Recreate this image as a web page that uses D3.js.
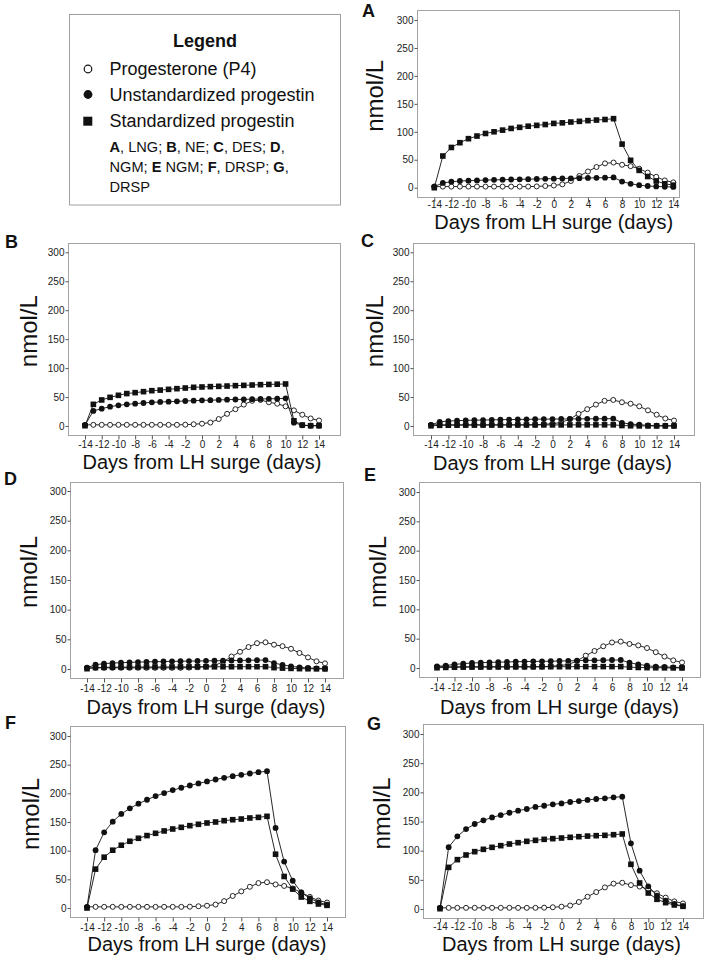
<!DOCTYPE html>
<html><head><meta charset="utf-8">
<script src="https://cdn.jsdelivr.net/npm/d3@7"></script>
<style>body{margin:0;background:#fff} svg{display:block}</style>
</head><body>
<svg id="chart" width="705" height="959"></svg>
<script>
// ---------------- DATA ----------------
const days = [-14,-13,-12,-11,-10,-9,-8,-7,-6,-5,-4,-3,-2,-1,0,1,2,3,4,5,6,7,8,9,10,11,12,13,14];
const xTickValues = [-14,-12,-10,-8,-6,-4,-2,0,2,4,6,8,10,12,14];
const yTickValues = [0,50,100,150,200,250,300];
const panelLetters = ["A","B","C","D","E","F","G"];
const xTitle = "Days from LH surge (days)";
const yTitle = "nmol/L";
const legendTitle = "Legend";
const seriesNames = ["Progesterone (P4)","Unstandardized progestin","Standardized progestin"];
const footnoteLines = [
  [["A",true],[", LNG; ",false],["B",true],[", NE; ",false],["C",true],[", DES; ",false],["D",true],[",",false]],
  [["NGM; ",false],["E",true],[" NGM; ",false],["F",true],[", DRSP; ",false],["G",true],[",",false]],
  [["DRSP",false]]
];

const p4 = [2,2,2,2,2,2,2,2,2,2,2,2,2.3,3,4,6,12,21,29,37,43.5,45,41,38.5,34,27,19.5,13,9.5];

const unstdA = [2,8.5,10.7,12,12.5,13,13.7,14,14.3,14.7,15,15.3,15.6,15.9,16.2,16.5,16.8,17.1,17.4,17.7,18,18.3,11,7,4.5,3,2.2,1.7,1.3];
const stdA   = [0,56.7,72,80.5,87.7,92.4,97,100,103,106,108,110,111.5,113,115,116,117.5,118.7,120,121,122,123.5,78,49,31,20,12,7,4.5];

const unstdB = [1.5,26,30,33.4,35.7,37.4,38.6,39.7,40.9,41.5,42,42.6,43.2,43.8,44.3,44.6,45,45.5,45.8,46,46.4,46.7,47,47.2,47.8,5.8,1.2,0.6,0.5];
const stdB   = [0.5,37.4,45,49.5,53,56,57.6,59.3,61,62,63.3,64.5,65.6,66.8,67.4,68,68.5,69,69.7,70.2,70.8,71.4,71.8,72.2,72.6,9,1.7,0.5,0.5];

const unstdC = [2,7,8.5,9.2,9.8,10,10.3,10.6,10.9,11.1,11.3,11.5,11.7,11.9,12,12.1,12.2,12.3,12.4,12.5,12.6,12.7,5.5,3.3,2.2,1.2,0.7,0.5,0.4];
const stdC   = [0.3,1.2,1.4,1.5,1.6,1.6,1.7,1.7,1.7,1.8,1.8,1.8,1.8,1.9,1.9,1.9,1.9,2,2,2,2,2,0.8,0.4,0.2,0.1,0.1,0.1,0.1];

const unstdD = [2.2,7.3,9,10,10.6,11.2,11.6,12,12.3,12.6,12.9,13.1,13.3,13.5,13.7,13.9,14.1,14.3,14.5,14.7,14.9,15,10,7,4.5,2.8,1.7,1.2,0.8];
const stdD   = [0.5,2.4,2.8,3,3.1,3.2,3.3,3.4,3.4,3.5,3.5,3.6,3.6,3.7,3.7,3.7,3.8,3.8,3.8,3.9,3.9,3.9,2.3,1.5,1,0.6,0.4,0.3,0.2];

const unstdE = [2.8,4,6.2,7.4,8.5,9,9.6,10,10.2,10.8,11,11.3,11.3,11.6,11.9,12.2,12.5,13,13,13.3,13.6,13.6,9,6.2,4,2.3,1.7,1.2,0.9];
const stdE   = [0.4,1,1.3,1.5,1.6,1.7,1.8,1.9,1.9,2,2,2.1,2.1,2.2,2.2,2.2,2.3,2.3,2.3,2.4,2.4,2.4,1.4,0.9,0.6,0.4,0.3,0.2,0.1];

const unstdF = [1.7,100.8,132,150.6,164,173.8,181.9,188.8,195.2,200.4,205.6,209.7,213.7,217.2,220.7,224.1,227,230,232.3,234.6,236.9,238.6,139.6,81,47.5,27.2,16.8,9.8,5.8];
const stdF   = [0,67.8,88.6,100.8,109.5,116.4,121.6,126.3,130.3,134.4,137.8,140.7,143.6,146,148.3,150,152.3,154,155.2,157,158.1,159.9,93.8,55,33,19.1,11.6,7,4.6];

const unstdG = [1.7,106,124.6,137,145.7,152,157,161,165,168.6,171.4,174.9,177,179.4,181,183.4,185,186.9,188.6,189.7,191.4,192.6,112.6,65.7,38.9,22.9,14.3,8.6,5];
const stdG   = [0.5,71.4,84.6,92.6,98.3,102.3,105.7,108.6,111.4,113.7,116,117.7,119.4,120.6,121.7,122.9,124,125,125.7,126.3,127.4,128.6,76.6,44.6,27.4,16.6,10.9,6.9,4.6];

const unstdSeries = [unstdA, unstdB, unstdC, unstdD, unstdE, unstdF, unstdG];
const stdSeries   = [stdA, stdB, stdC, stdD, stdE, stdF, stdG];

// ---------------- LAYOUT (positions only) ----------------
const layout = [
  {L:417,R:679,T:10, B:197, x0:434.3,x1:673.3,y0:187.7,y300:20,   tickBase:208,  titleBase:229, ylabX:374, letterX:362, letterBase:17},
  {L:68, R:340,T:243,B:435, x0:85,   x1:319,  y0:426,  y300:252.3,tickBase:447.5,titleBase:469, ylabX:28,  letterX:5,   letterBase:248},
  {L:413,R:694,T:243,B:435, x0:431,  x1:674,  y0:426,  y300:252.3,tickBase:447.5,titleBase:470, ylabX:374, letterX:361, letterBase:247},
  {L:70, R:343,T:482,B:678, x0:87,   x1:325,  y0:669,  y300:491,  tickBase:692,  titleBase:714, ylabX:28,  letterX:4,   letterBase:485},
  {L:419,R:700,T:482,B:677, x0:437,  x1:682,  y0:668,  y300:492,  tickBase:691,  titleBase:714, ylabX:377, letterX:364, letterBase:481},
  {L:70, R:345,T:726,B:917, x0:87,   x1:327,  y0:908,  y300:736,  tickBase:931,  titleBase:951, ylabX:30,  letterX:5,   letterBase:729},
  {L:423,R:703,T:724,B:918, x0:440,  x1:683,  y0:909,  y300:734,  tickBase:930,  titleBase:951, ylabX:381, letterX:367, letterBase:730}
];

const FONT = "'Liberation Sans', Arial, Helvetica, sans-serif";
const svg = d3.select("#chart");
svg.append("rect").attr("width",705).attr("height",959).attr("fill","#fff");

// ---------------- LEGEND ----------------
const lg = svg.append("g").attr("font-family", FONT);
lg.append("rect").attr("x",69.5).attr("y",14.5).attr("width",271).attr("height",190.5)
  .attr("fill","none").attr("stroke","#a0a0a0").attr("stroke-width",1);
lg.append("text").attr("x",205).attr("y",46.5).attr("text-anchor","middle")
  .attr("font-size",18).attr("font-weight","bold").attr("fill","#111").text(legendTitle);
const legRows = [75,100.5,127];
lg.append("circle").attr("cx",88).attr("cy",legRows[0]-6).attr("r",3.8)
  .attr("fill","#fff").attr("stroke","#111").attr("stroke-width",1.2);
lg.append("circle").attr("cx",88).attr("cy",legRows[1]-6).attr("r",4.4).attr("fill","#111");
lg.append("rect").attr("x",83.3).attr("y",legRows[2]-10.3).attr("width",9).attr("height",9).attr("fill","#111");
seriesNames.forEach((n,i)=>{
  lg.append("text").attr("x",109.5).attr("y",legRows[i]).attr("font-size",18).attr("fill","#111").text(n);
});
const fnBase = [152,172,192];
footnoteLines.forEach((segs,i)=>{
  const t = lg.append("text").attr("x",109.5).attr("y",fnBase[i]).attr("font-size",14.6).attr("fill","#111");
  segs.forEach(s=>{
    t.append("tspan").attr("font-weight", s[1] ? "bold" : "normal").text(s[0]);
  });
});

// ---------------- PANELS ----------------
const sq = 5.6;
layout.forEach((lay, pi)=>{
  const g = svg.append("g").attr("font-family", FONT);
  const x = d3.scaleLinear().domain([days[0], days[days.length-1]]).range([lay.x0, lay.x1]);
  const y = d3.scaleLinear().domain([yTickValues[0], yTickValues[yTickValues.length-1]]).range([lay.y0, lay.y300]);

  // frame
  g.append("rect").attr("x",lay.L+0.5).attr("y",lay.T+0.5)
    .attr("width",lay.R-lay.L).attr("height",lay.B-lay.T)
    .attr("fill","none").attr("stroke","#a3a3a3").attr("stroke-width",1);

  // y axis
  const ya = g.append("g").attr("transform",`translate(${lay.L+0.5},0)`)
    .call(d3.axisLeft(y).tickValues(yTickValues).tickSize(3).tickSizeOuter(0).tickPadding(1).tickFormat(d3.format("d")));
  ya.select(".domain").remove();
  ya.selectAll(".tick line").attr("stroke","#555");
  ya.selectAll(".tick text").attr("font-family",FONT).attr("font-size",10).attr("fill","#222");

  // x axis
  const xa = g.append("g").attr("transform",`translate(0,${lay.B+0.5})`)
    .call(d3.axisBottom(x).tickValues(xTickValues).tickSize(4).tickSizeOuter(0).tickFormat(d=> d<0 ? "-"+Math.abs(d) : String(d)));
  xa.select(".domain").remove();
  xa.selectAll(".tick line").attr("stroke","#555");
  xa.selectAll(".tick text").attr("font-family",FONT).attr("font-size",10).attr("fill","#222")
    .attr("y", lay.tickBase - lay.B - 0.5).attr("dy",0);

  // titles
  g.append("text").attr("x",(lay.x0+lay.x1)/2).attr("y",lay.titleBase).attr("text-anchor","middle")
    .attr("font-size",20).attr("fill","#111").text(xTitle);
  const ycx = lay.ylabX + 8.5, ycy = (lay.y0+lay.y300)/2 - 8;
  g.append("text").attr("transform",`translate(${ycx},${ycy}) rotate(-90)`).attr("text-anchor","middle")
    .attr("font-size",24).attr("fill","#111").text(yTitle);
  g.append("text").attr("x",lay.letterX).attr("y",lay.letterBase)
    .attr("font-size",18).attr("font-weight","bold").attr("fill","#111").text(panelLetters[pi]);

  const line = d3.line().x((d,i)=>x(days[i])).y(d=>y(d));
  const clip = g.append("g");

  // P4
  clip.append("path").datum(p4).attr("d",line).attr("fill","none").attr("stroke","#111").attr("stroke-width",0.9);
  clip.selectAll(".p4").data(p4).join("circle").attr("class","p4")
    .attr("cx",(d,i)=>x(days[i])).attr("cy",d=>y(d)).attr("r",2.5)
    .attr("fill","#fff").attr("stroke","#111").attr("stroke-width",0.9);

  // unstandardized
  const u = unstdSeries[pi];
  clip.append("path").datum(u).attr("d",line).attr("fill","none").attr("stroke","#111").attr("stroke-width",0.9);
  clip.selectAll(".un").data(u).join("circle").attr("class","un")
    .attr("cx",(d,i)=>x(days[i])).attr("cy",d=>y(d)).attr("r",2.9).attr("fill","#111");

  // standardized
  const s = stdSeries[pi];
  clip.append("path").datum(s).attr("d",line).attr("fill","none").attr("stroke","#111").attr("stroke-width",0.9);
  clip.selectAll(".st").data(s).join("rect").attr("class","st")
    .attr("x",(d,i)=>x(days[i])-sq/2).attr("y",d=>y(d)-sq/2).attr("width",sq).attr("height",sq).attr("fill","#111");
});
</script>
</body></html>
